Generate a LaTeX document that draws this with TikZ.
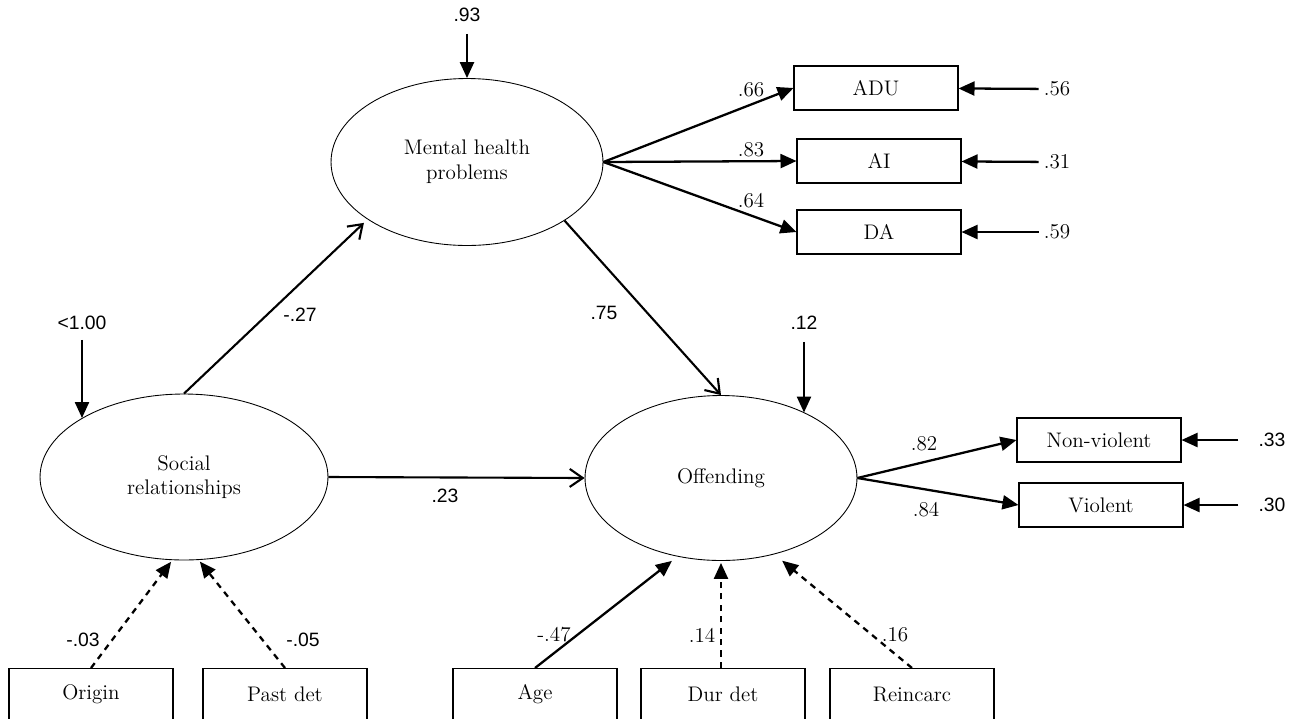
\documentclass[tikz,border=0pt]{standalone}
\usepackage{fontspec}
\newfontfamily\numsans{Liberation Sans}
\usetikzlibrary{arrows.meta,shapes.geometric}

\tikzset{
  latent/.style={draw,ellipse,line width=0.5pt,inner sep=0pt,align=center,font=\fontsize{12}{14}\selectfont},
  obs/.style={draw,rectangle,line width=0.6pt,minimum width=3.28cm,minimum height=0.88cm,inner sep=0pt,font=\fontsize{12}{14}\selectfont},
  coef/.style={font=\numsans\fontsize{11}{12}\selectfont,inner sep=1pt},
  coefr/.style={font=\fontsize{12}{14}\selectfont,inner sep=1pt},
  regpath/.style={line width=1.2pt,-{Straight Barb[length=2.6mm,width=3.6mm]}},
  load/.style={line width=1.3pt,-{Triangle[length=3.2mm,width=2.8mm]}},
  weak/.style={load,dash pattern=on 3.5pt off 3pt},
}

\begin{document}
\begin{tikzpicture}[x=0.02cm,y=-0.02cm]
\useasboundingbox (0,0) rectangle (1289,718);
% latent variables
\node[latent,minimum width=5.44cm,minimum height=3.34cm] (mental) at (467,162) {Mental health\\problems};
\node[latent,minimum width=5.76cm,minimum height=3.32cm] (social) at (184,477) {Social\\relationships};
\node[latent,minimum width=5.44cm,minimum height=3.30cm] (off) at (721,478) {Offending};
% indicators
\node[obs] (adu) at (876,88) {ADU};
\node[obs] (ai) at (879,161) {AI};
\node[obs] (da) at (879,232) {DA};
\node[obs] (nonv) at (1099,440) {Non-violent};
\node[obs] (viol) at (1101,505) {Violent};
% covariates (cut off at the bottom)
\node[obs,anchor=north,minimum height=1.04cm] (origin) at (91,668) {Origin};
\node[obs,anchor=north,minimum height=1.04cm] (pastdet) at (285,668) {Past det};
\node[obs,anchor=north,minimum height=1.04cm] (age) at (535,668) {Age};
\node[obs,anchor=north,minimum height=1.04cm] (durdet) at (723,668) {Dur det};
\node[obs,anchor=north,minimum height=1.04cm] (reinc) at (912,668) {Reincarc};
% residuals
\node[coef] (e93) at (467,15) {.93};
\node[coef] (e100) at (82,323) {<1.00};
\node[coef] (e12) at (804,323) {.12};
\node[coefr] (e56) at (1057,89) {.56};
\node[coefr] (e31) at (1057,162) {.31};
\node[coefr] (e59) at (1057,232) {.59};
\node[coef] (e33) at (1272,440) {.33};
\node[coef] (e30) at (1272,505) {.30};
\draw[load,shorten <=0.2cm] (e93) -- (mental);
\draw[load,shorten <=0.16cm] (e100) -- (e100 |- social.150);
\draw[load,shorten <=0.2cm] (e12) -- (e12 |- off.38);
\draw[load,shorten <=0.06cm] (e56) -- (adu);
\draw[load,shorten <=0.06cm] (e31) -- (ai);
\draw[load,shorten <=0.06cm] (e59) -- (da);
\draw[load,shorten <=0.36cm] (e33) -- (nonv);
\draw[load,shorten <=0.36cm] (e30) -- (viol);
% structural paths
\draw[regpath,shorten >=0.1cm] (social.north) -- (mental.210);
\draw[regpath] (mental.-31) -- (off.north);
\draw[regpath] (social.east) -- (off.west);
\node[coef] (b27) at (300,315) {-.27};
\node[coef] (b75) at (604,313) {.75};
\node[coef] (b23) at (445,496) {.23};
% loadings
\draw[load] (mental.east) -- (adu.west);
\draw[load] (mental.east) -- (ai.west);
\draw[load] (mental.east) -- (da.west);
\draw[load] (off.east) -- (nonv.west);
\draw[load] (off.east) -- (viol.west);
\node[coefr] (l66) at (751,90) {.66};
\node[coefr] (l83) at (751,150) {.83};
\node[coefr] (l64) at (751,201) {.64};
\node[coefr] (l82) at (924,444) {.82};
\node[coefr] (l84) at (926,510) {.84};
% covariate effects
\draw[weak,shorten >=0.04cm] (origin.north) -- (social.262);
\draw[weak,shorten >=0.04cm] (pastdet.north) -- (social.280);
\draw[load,shorten >=0.14cm] (age.north) -- (off.241);
\draw[weak,shorten >=0.04cm] (off.south |- durdet.north) -- (off.south);
\draw[weak,shorten >=0.2cm] (reinc.north) -- (off.305);
\node[coef] (c03) at (83,640) {-.03};
\node[coef] (c05) at (303,640) {-.05};
\node[coefr] (c47) at (554,635) {-.47};
\node[coefr] (c14) at (702,635) {.14};
\node[coefr] (c16) at (895,635) {.16};
\end{tikzpicture}
\end{document}
